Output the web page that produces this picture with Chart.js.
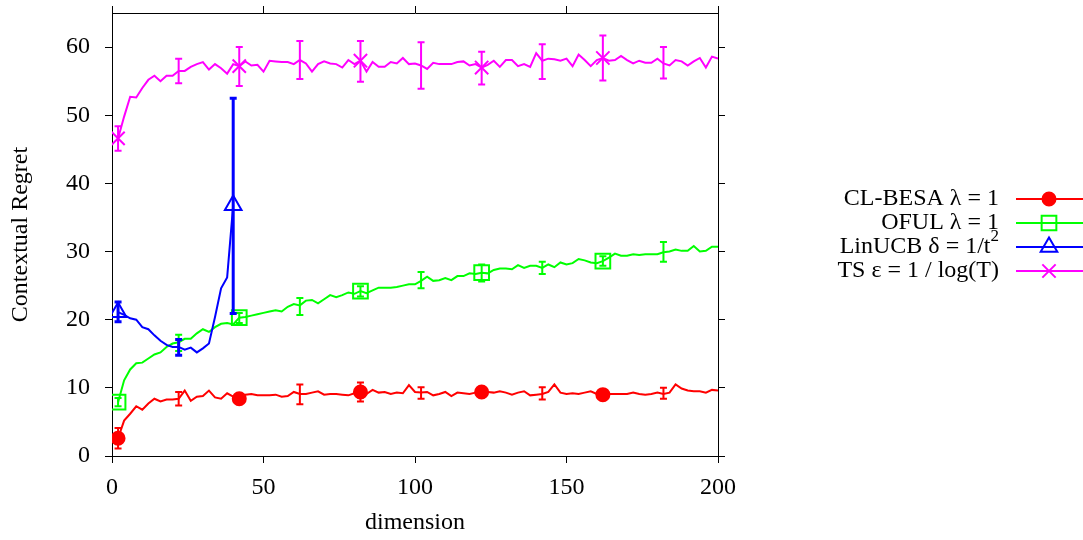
<!DOCTYPE html>
<html>
<head>
<meta charset="utf-8">
<script src="https://cdn.jsdelivr.net/npm/chart.js@4.4.1/dist/chart.umd.min.js"></script>
<style>
  html, body { margin: 0; padding: 0; background: #fff; }
  #chart { display: block; }
</style>
</head>
<body>
<canvas id="chart" width="1083" height="540"></canvas>
<script>
const dims = [
  2, 4, 6, 8, 10, 12, 14, 16, 18, 20, 22, 24, 26, 28, 30, 32, 34, 36, 38, 40,
  42, 44, 46, 48, 50, 52, 54, 56, 58, 60, 62, 64, 66, 68, 70, 72, 74, 76, 78, 80,
  82, 84, 86, 88, 90, 92, 94, 96, 98, 100, 102, 104, 106, 108, 110, 112, 114, 116, 118, 120,
  122, 124, 126, 128, 130, 132, 134, 136, 138, 140, 142, 144, 146, 148, 150, 152, 154, 156, 158, 160,
  162, 164, 166, 168, 170, 172, 174, 176, 178, 180, 182, 184, 186, 188, 190, 192, 194, 196, 198, 200
];

const besaRegret = [
  2.6, 5.2, 6.2, 7.3, 6.8, 7.7, 8.4, 8.0, 8.3, 8.3, 8.4, 9.6, 8.1, 8.7, 8.8, 9.6, 8.6, 8.4, 9.2, 8.7,
  8.4, 9.0, 9.1, 8.9, 8.9, 8.9, 9.0, 8.7, 8.8, 9.4, 9.1, 9.1, 9.3, 9.5, 9.0, 9.1, 9.1, 9.0, 8.9, 9.2,
  9.4, 9.1, 9.7, 9.3, 9.4, 9.1, 9.3, 9.2, 10.4, 9.4, 9.3, 9.4, 8.9, 9.1, 9.4, 8.8, 9.3, 9.2, 9.1, 9.3,
  9.4, 9.4, 9.3, 9.5, 9.3, 9.0, 9.3, 9.5, 8.9, 9.0, 9.1, 9.4, 10.5, 9.3, 9.1, 9.2, 9.1, 9.3, 9.5, 9.1,
  9.0, 9.1, 9.1, 9.1, 9.1, 9.3, 9.1, 9.0, 9.1, 9.3, 9.1, 9.3, 10.5, 9.9, 9.6, 9.5, 9.5, 9.3, 9.7, 9.6
];

const ofulRegret = [
  7.9, 11.1, 12.7, 13.6, 13.7, 14.3, 14.9, 15.2, 16.0, 16.5, 16.7, 17.2, 17.2, 18.0, 18.6, 18.2, 18.9, 19.4, 19.5, 19.3,
  20.3, 20.4, 20.6, 20.8, 21.0, 21.2, 21.4, 21.2, 21.9, 22.3, 22.1, 22.8, 22.9, 22.4, 23.0, 23.6, 23.3, 23.6, 24.0, 23.8,
  24.2, 23.9, 24.3, 24.7, 24.7, 24.7, 24.8, 25.0, 25.2, 25.2, 25.7, 26.3, 25.7, 25.8, 26.1, 25.8, 26.4, 26.4, 26.8, 26.7,
  26.9, 26.8, 27.3, 27.5, 27.5, 27.4, 28.0, 27.6, 27.9, 27.9, 27.6, 28.1, 27.7, 28.4, 28.1, 28.3, 28.9, 28.7, 28.4, 28.3,
  28.6, 29.1, 29.7, 29.4, 29.4, 29.6, 29.5, 29.6, 29.6, 29.6, 29.9, 30.0, 30.3, 30.1, 30.1, 30.8, 30.0, 30.1, 30.7, 30.7
];

const linucbRegret = [
  21.1, 20.7, 20.2, 20.0, 18.9, 18.6, 17.7, 16.9, 16.3, 16.0, 16.0, 15.6, 15.9, 15.2, 15.8, 16.5, 20.4, 24.6, 26.2, 36.8
];

const tsRegret = [
  46.6, 49.8, 52.7, 52.6, 54.0, 55.2, 55.8, 55.0, 55.8, 55.8, 56.5, 56.5, 57.1, 57.5, 57.8, 56.7, 57.5, 56.9, 56.1, 57.5,
  57.2, 57.9, 57.3, 57.4, 56.4, 58.0, 57.9, 57.8, 57.8, 57.5, 58.1, 57.6, 56.4, 57.5, 57.9, 57.6, 57.5, 57.0, 58.1, 57.5,
  58.0, 56.4, 57.8, 57.1, 57.1, 57.8, 57.6, 58.4, 57.5, 57.6, 57.3, 56.8, 57.7, 57.5, 57.5, 57.5, 57.8, 57.9, 57.3, 57.5,
  57.0, 57.4, 58.0, 57.1, 58.1, 58.1, 57.2, 57.5, 57.1, 59.1, 58.0, 58.3, 58.2, 58.0, 58.3, 57.2, 58.9, 58.1, 57.2, 58.1,
  58.4, 58.0, 58.1, 58.7, 58.1, 57.6, 58.0, 57.7, 57.7, 58.3, 57.6, 57.3, 58.1, 57.9, 57.3, 57.9, 58.4, 57.0, 58.6, 58.3
];

const besaErrX = [2, 22, 42, 62, 82, 102, 122, 142, 162, 182];
const besaErrLow = [1.1, 7.4, 7.9, 7.6, 8.0, 8.4, 8.9, 8.3, 8.5, 8.4];
const besaErrHigh = [4.1, 9.4, 9.0, 10.5, 10.8, 10.1, 9.9, 10.1, 9.6, 10.0];

const ofulErrX = [2, 22, 42, 62, 82, 102, 122, 142, 162, 182];
const ofulErrLow = [7.3, 15.4, 19.5, 20.7, 23.4, 24.6, 25.6, 26.7, 27.9, 28.5];
const ofulErrHigh = [8.5, 17.8, 21.0, 23.2, 24.9, 27.0, 28.1, 28.5, 29.3, 31.4];

const linucbErrX = [2, 22, 40];
const linucbErrLow = [19.7, 14.8, 20.9];
const linucbErrHigh = [22.6, 17.1, 52.5];

const tsErrX = [2, 22, 42, 62, 82, 102, 122, 142, 162, 182];
const tsErrLow = [44.8, 54.7, 54.3, 55.3, 54.9, 53.9, 54.5, 55.3, 55.1, 55.4];
const tsErrHigh = [48.4, 58.3, 60.0, 60.9, 60.9, 60.7, 59.3, 60.4, 61.7, 60.0];

const besaMarkers = [2, 42, 82, 122, 162];
const ofulMarkers = [2, 42, 82, 122, 162];
const linucbMarkers = [2, 40];
const tsMarkers = [2, 42, 82, 122, 162];

const seriesNames = ["CL-BESA λ = 1", "OFUL λ = 1", "LinUCB δ = 1/t²", "TS ε = 1 / log(T)"];
const xTicks = [0, 50, 100, 150, 200];
const yTicks = [0, 10, 20, 30, 40, 50, 60];

const serif = "'Liberation Serif', 'Times New Roman', serif";

Chart.defaults.font.family = serif;
Chart.defaults.font.size = 24;
Chart.defaults.color = "#000";

function toPoints(values) {
  return values.map((v, i) => ({ x: dims[i], y: v }));
}

function markerRadius(markers, r) {
  return (ctx) => (ctx.raw && markers.includes(ctx.raw.x) ? r : 0);
}

function makeSeries(label, values, color, style, radius, markers, fill, err, order) {
  return {
    label,
    data: toPoints(values),
    borderColor: color,
    backgroundColor: fill ? color : "rgba(0,0,0,0)",
    borderWidth: 2,
    pointStyle: style,
    pointRadius: markerRadius(markers, radius),
    pointBorderWidth: 2,
    pointBorderColor: color,
    pointBackgroundColor: fill ? color : "rgba(0,0,0,0)",
    tension: 0,
    order,
    errorBars: err,
    markerSize: radius
  };
}

// drop the half-label padding so the plot box sits where the reference has it
function fixBox(size, key) {
  return (scale) => {
    scale[key] = size;
    scale.paddingTop = 0;
    scale.paddingBottom = 0;
    scale.paddingLeft = 0;
    scale.paddingRight = 0;
  };
}

const errorBarPlugin = {
  id: "errorBars",
  afterDatasetDraw(chart, args) {
    const ds = chart.data.datasets[args.index];
    const bars = ds.errorBars;
    if (!bars) return;
    const { ctx } = chart;
    const xs = chart.scales.x;
    const ys = chart.scales.y;
    ctx.save();
    ctx.strokeStyle = ds.borderColor;
    ctx.lineWidth = bars.width;
    bars.x.forEach((d, i) => {
      const px = xs.getPixelForValue(d);
      const top = ys.getPixelForValue(bars.high[i]);
      const bottom = ys.getPixelForValue(bars.low[i]);
      ctx.beginPath();
      ctx.moveTo(px, top);
      ctx.lineTo(px, bottom);
      ctx.moveTo(px - 3.5, top);
      ctx.lineTo(px + 3.5, top);
      ctx.moveTo(px - 3.5, bottom);
      ctx.lineTo(px + 3.5, bottom);
      ctx.stroke();
    });
    ctx.restore();
  }
};

const sideLegendPlugin = {
  id: "sideLegend",
  afterDraw(chart) {
    const { ctx } = chart;
    ctx.save();
    chart.data.datasets.forEach((ds, i) => {
      const y = 199 + i * 24;
      const name = seriesNames[i];
      ctx.font = "24px " + serif;
      ctx.fillStyle = "#000";
      ctx.textBaseline = "middle";
      ctx.textAlign = "right";
      if (name.endsWith("²")) {
        ctx.font = "17px " + serif;
        const supW = ctx.measureText("2").width;
        ctx.fillText("2", 999, y - 10);
        ctx.font = "24px " + serif;
        ctx.fillText(name.slice(0, -1), 999 - supW, y);
      } else {
        ctx.fillText(name, 999, y);
      }

      ctx.strokeStyle = ds.borderColor;
      ctx.lineWidth = 2;
      ctx.beginPath();
      ctx.moveTo(1016, y);
      ctx.lineTo(1083, y);
      ctx.stroke();

      ctx.fillStyle = ds.pointBackgroundColor;
      Chart.helpers.drawPoint(ctx, {
        pointStyle: ds.pointStyle,
        radius: ds.markerSize,
        borderWidth: 2,
        rotation: 0
      }, 1049, y);
    });
    ctx.restore();
  }
};

const blackGrid = {
  drawOnChartArea: false,
  drawTicks: true,
  tickLength: 7,
  color: "#000",
  lineWidth: 1
};
const blackBorder = { display: true, color: "#000", width: 1 };

new Chart(document.getElementById("chart"), {
  type: "line",
  data: {
    datasets: [
      makeSeries(seriesNames[0], besaRegret, "#ff0000", "circle", 6.5, besaMarkers, true,
        { x: besaErrX, low: besaErrLow, high: besaErrHigh, width: 2 }, 3),
      makeSeries(seriesNames[1], ofulRegret, "#00ff00", "rect", 10.4, ofulMarkers, false,
        { x: ofulErrX, low: ofulErrLow, high: ofulErrHigh, width: 2 }, 2),
      makeSeries(seriesNames[2], linucbRegret, "#0000ff", "triangle", 9.6, linucbMarkers, false,
        { x: linucbErrX, low: linucbErrLow, high: linucbErrHigh, width: 3 }, 1),
      makeSeries(seriesNames[3], tsRegret, "#ff00ff", "crossRot", 9.4, tsMarkers, false,
        { x: tsErrX, low: tsErrLow, high: tsErrHigh, width: 2 }, 0)
    ]
  },
  options: {
    responsive: false,
    animation: false,
    layout: { padding: 0 },
    plugins: {
      legend: { display: false },
      tooltip: { enabled: false }
    },
    scales: {
      x: {
        type: "linear",
        position: "bottom",
        min: 0,
        max: 200,
        afterBuildTicks: (scale) => { scale.ticks = xTicks.map((v) => ({ value: v })); },
        afterFit: fixBox(84, "height"),
        ticks: { padding: 10, maxRotation: 0, color: "#000" },
        grid: blackGrid,
        border: blackBorder,
        title: { display: true, text: "dimension", padding: { top: 0, bottom: 3 } }
      },
      x2: {
        type: "linear",
        position: "top",
        min: 0,
        max: 200,
        afterBuildTicks: (scale) => { scale.ticks = xTicks.map((v) => ({ value: v })); },
        afterFit: fixBox(13, "height"),
        ticks: { display: false },
        grid: blackGrid,
        border: blackBorder
      },
      y: {
        type: "linear",
        position: "left",
        min: 0,
        max: 65,
        afterBuildTicks: (scale) => { scale.ticks = yTicks.map((v) => ({ value: v })); },
        afterFit: fixBox(112, "width"),
        ticks: { padding: 15, color: "#000" },
        grid: blackGrid,
        border: blackBorder,
        title: { display: true, text: "Contextual Regret", padding: { top: 6, bottom: 0 } }
      },
      y2: {
        type: "linear",
        position: "right",
        min: 0,
        max: 65,
        afterBuildTicks: (scale) => { scale.ticks = yTicks.map((v) => ({ value: v })); },
        afterFit: fixBox(365, "width"),
        ticks: { display: false },
        grid: blackGrid,
        border: blackBorder
      }
    }
  },
  plugins: [errorBarPlugin, sideLegendPlugin]
});
</script>
</body>
</html>
